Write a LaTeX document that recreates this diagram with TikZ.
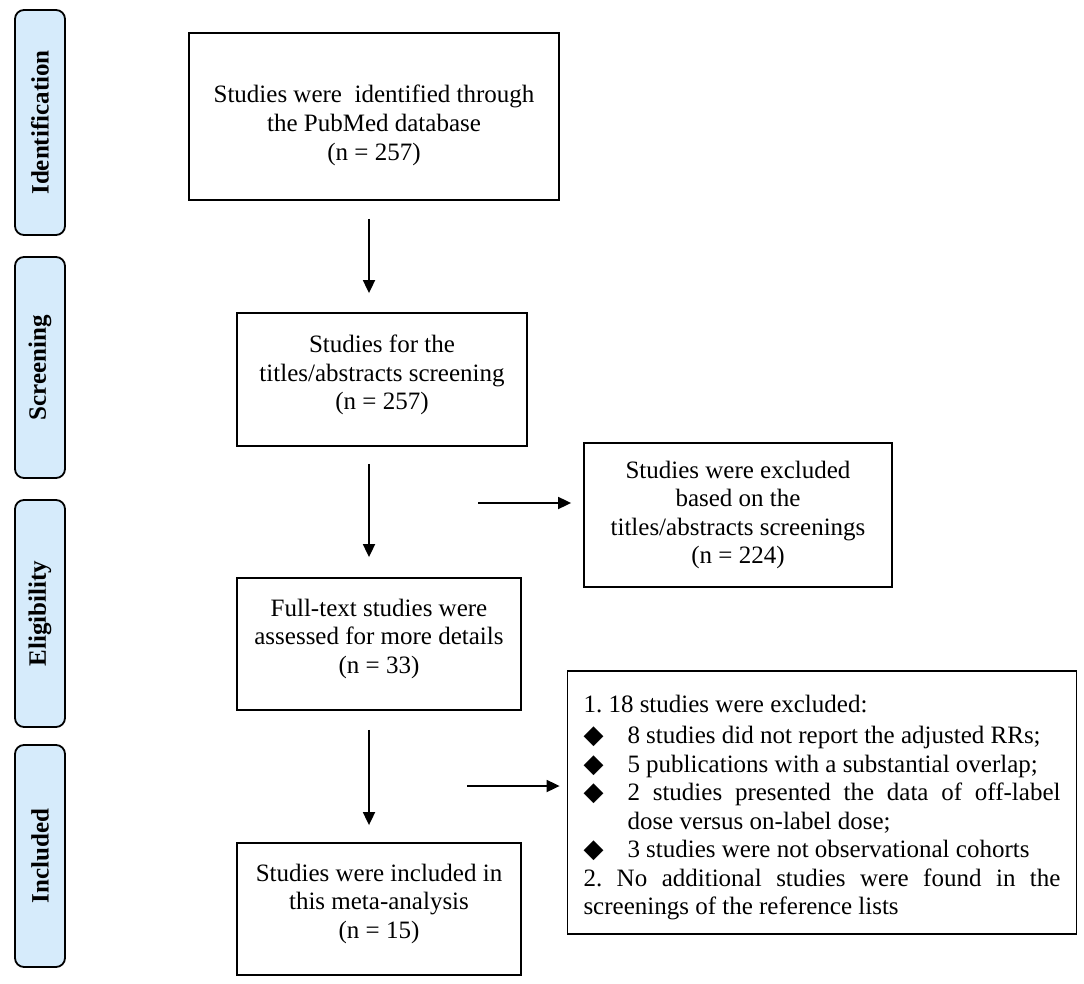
\documentclass[tikz,border=0pt]{standalone}
\usepackage{fontspec}
\setmainfont{Liberation Serif}
\newfontfamily\symfont{DejaVu Sans}
\usetikzlibrary{arrows.meta}
\definecolor{sideblue}{RGB}{214,235,251}
\newcommand{\dmd}{\makebox[44pt][l]{\symfont\fontsize{26}{28}\selectfont ◆}}
\newcommand{\upstrut}[1]{\rule{0pt}{#1}}
\newcommand{\downstrut}[1]{\rule[-#1]{0pt}{#1}}
\begin{document}
\begin{tikzpicture}[x=1pt,y=-1pt,
  box/.style={draw, line width=1.8pt, align=center, inner sep=0pt,
    font=\fontsize{25}{28.5}\selectfont},
  sidebox/.style={draw, line width=1.8pt, rounded corners=9pt, fill=sideblue,
    rotate=90, inner sep=0pt, minimum height=50pt,
    font=\bfseries\fontsize{25}{28}\selectfont},
  arr/.style={line width=1.8pt, -{Triangle[length=13pt,width=12pt]}}]
\useasboundingbox (0,0) rectangle (1084,984);

% phase labels
\node[sidebox, minimum width=225pt] (sid) at (40,122.5) {Identification};
\node[sidebox, minimum width=221pt] (ssc) at (40,367.5) {Screening};
\node[sidebox, minimum width=227pt] (sel) at (40,613.5) {Eligibility};
\node[sidebox, minimum width=222pt] (sin) at (40,856) {Included};

% main boxes
\node[box, minimum width=370pt, minimum height=167pt, font=\fontsize{25}{29}\selectfont] (b1) at (374,116.5)
  {\upstrut{35pt}Studies were\ \ identified through\\the PubMed database\\(n = 257)};
\node[box, minimum width=290pt, minimum height=133pt] (b2) at (382,379.5)
  {Studies for the\\titles/abstracts screening\\(n = 257)\downstrut{14.4pt}};
\node[box, minimum width=284pt, minimum height=132pt] (b3) at (379,644)
  {Full-text studies were\\assessed for more details\\(n = 33)\downstrut{15.4pt}};
\node[box, minimum width=284pt, minimum height=132pt] (b4) at (379,909)
  {Studies were included in\\this meta-analysis\\(n = 15)\downstrut{15.4pt}};
\node[box, minimum width=308pt, minimum height=144pt] (e1) at (738,515)
  {Studies were excluded\\based on the\\titles/abstracts screenings\\(n = 224)};
\node[draw, line width=1.8pt, inner xsep=16pt, inner ysep=0pt, text width=477pt,
  align=justify, minimum height=263pt, font=\fontsize{25}{28.5}\selectfont] (e2) at (822,802.5)
  {\setlength\parindent{0pt}\frenchspacing\hyphenpenalty=10000\exhyphenpenalty=10000\relax
   \upstrut{27pt}1. 18 studies were excluded:\par\vspace{3pt}
   \hangindent=44pt\hangafter=1\dmd 8 studies did not report the adjusted RRs;\par
   \hangindent=44pt\hangafter=1\dmd 5 publications with a substantial overlap;\par
   \hangindent=44pt\hangafter=1\dmd 2 studies presented the data of off-label\linebreak dose versus on-label dose;\par
   \hangindent=44pt\hangafter=1\dmd 3 studies were not observational cohorts\par
   2. No additional studies were found in the screenings of the reference lists\par};

% connector helpers
\coordinate (ax) at (369,0);
\coordinate (h1) at (478,503);
\coordinate (h2) at (467,786);

\draw[arr, shorten <=18pt, shorten >=19pt] (b1.south -| ax) -- (b2.north -| ax);
\draw[arr, shorten <=17pt, shorten >=20pt] (b2.south -| ax) -- (b3.north -| ax);
\draw[arr, shorten <=19pt, shorten >=17pt] (b3.south -| ax) -- (b4.north -| ax);
\draw[arr, shorten >=12pt] (h1) -- (e1.west |- h1);
\draw[arr, shorten >=7pt] (h2) -- (e2.west |- h2);
\end{tikzpicture}
\end{document}
